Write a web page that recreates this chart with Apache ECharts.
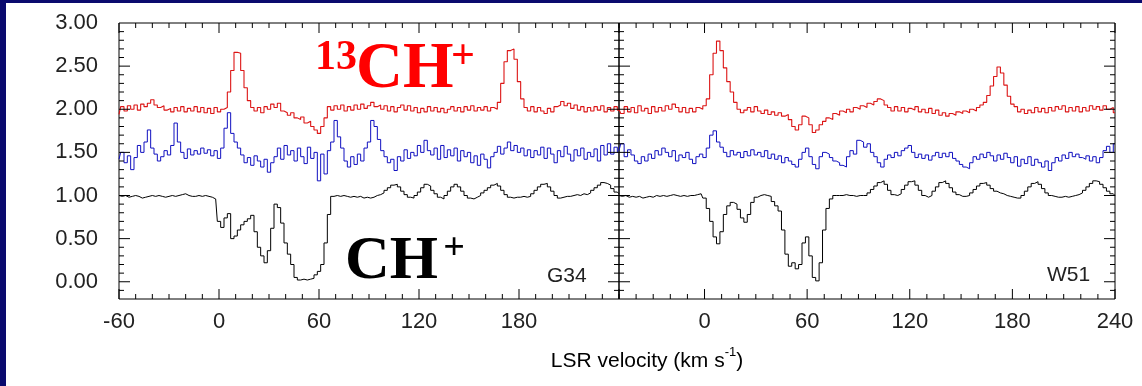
<!DOCTYPE html>
<html>
<head>
<meta charset="utf-8">
<script src="https://cdn.jsdelivr.net/npm/echarts@6/dist/echarts.min.js"></script>
<style>
html,body{margin:0;padding:0;background:#fff;}
#chart{width:1142px;height:386px;}
</style>
</head>
<body>
<div id="chart"></div>
<script>
// ---------- DATA ----------
// velocity sampling (km/s): sample i is at start + i*step
const g34Start = -60, w51Start = -50, vStep = 2;

// G34 panel (left), v = -60 .. 240
const g34_13CH = [
  1.94,2.03,1.98,2.04,2.00,2.05,1.99,2.06,2.03,2.07,
  2.11,2.05,2.02,2.04,1.99,2.01,1.97,2.02,1.98,2.03,
  1.97,2.01,1.98,2.03,1.97,2.02,1.96,2.01,1.95,2.02,
  1.97,2.00,2.02,2.20,2.45,2.66,2.65,2.45,2.25,2.10,
  2.02,1.98,2.02,1.96,2.03,2.00,2.06,2.02,2.07,1.98,
  1.96,1.93,1.96,1.90,1.88,1.91,1.84,1.86,1.80,1.76,
  1.72,1.80,1.90,2.03,1.99,2.04,2.00,2.05,1.98,2.03,
  1.99,2.05,2.00,2.06,2.01,2.04,2.08,2.03,2.05,2.00,
  2.04,1.98,2.03,1.97,2.02,2.05,1.99,2.04,1.98,2.02,
  1.96,2.01,1.97,2.03,1.98,2.02,1.97,2.01,1.96,2.00,
  2.03,1.98,2.02,1.97,2.03,1.99,2.04,1.98,2.02,1.99,
  2.03,1.98,2.02,2.00,2.08,2.30,2.55,2.68,2.70,2.58,
  2.32,2.12,2.02,1.98,2.03,1.97,2.02,1.98,1.95,2.01,
  1.97,2.03,2.05,2.09,2.04,2.07,2.01,2.05,1.99,2.03,
  1.97,2.02,1.98,2.03,1.99,2.04,1.97,2.02,1.98,2.03,
  1.99
];
const g34_blue = [
  1.42,1.50,1.38,1.46,1.30,1.44,1.58,1.50,1.62,1.76,
  1.55,1.48,1.40,1.45,1.52,1.47,1.58,1.84,1.62,1.50,
  1.43,1.54,1.47,1.52,1.48,1.55,1.49,1.53,1.46,1.52,
  1.43,1.55,1.78,1.96,1.72,1.62,1.55,1.47,1.38,1.44,
  1.35,1.46,1.40,1.33,1.42,1.27,1.38,1.45,1.55,1.42,
  1.58,1.47,1.52,1.40,1.55,1.45,1.37,1.56,1.43,1.50,
  1.17,1.48,1.25,1.52,1.62,1.87,1.68,1.55,1.40,1.33,
  1.45,1.36,1.48,1.40,1.55,1.62,1.87,1.80,1.65,1.52,
  1.45,1.38,1.42,1.29,1.45,1.40,1.53,1.43,1.50,1.46,
  1.58,1.50,1.64,1.52,1.47,1.55,1.42,1.58,1.44,1.53,
  1.46,1.55,1.40,1.52,1.45,1.50,1.38,1.46,1.35,1.48,
  1.42,1.32,1.45,1.50,1.57,1.48,1.55,1.62,1.52,1.58,
  1.50,1.55,1.46,1.53,1.44,1.52,1.47,1.56,1.43,1.55,
  1.48,1.38,1.52,1.45,1.57,1.48,1.40,1.53,1.46,1.55,
  1.42,1.50,1.45,1.54,1.40,1.58,1.47,1.60,1.48,1.56,
  1.50
];
const g34_CH = [
  1.00,0.99,1.00,0.98,0.99,1.00,0.99,0.97,0.98,0.99,
  1.00,0.99,1.00,0.99,0.98,0.99,1.00,0.99,1.00,1.01,
  1.02,1.00,0.99,0.99,1.00,0.99,1.00,0.99,0.98,0.96,
  0.70,0.63,0.74,0.79,0.50,0.53,0.60,0.66,0.70,0.73,
  0.77,0.58,0.40,0.30,0.22,0.36,0.62,0.90,0.86,0.68,
  0.45,0.32,0.20,0.05,0.02,0.03,0.02,0.03,0.04,0.08,
  0.12,0.20,0.45,0.78,0.99,1.00,0.99,1.00,0.99,0.98,
  0.99,0.98,0.99,0.97,0.98,0.97,0.98,1.00,1.01,1.03,
  1.06,1.09,1.12,1.13,1.10,1.05,1.01,0.98,0.97,1.00,
  1.04,1.09,1.13,1.11,1.06,1.02,0.98,0.96,1.00,1.05,
  1.10,1.13,1.10,1.05,1.00,0.97,0.96,0.98,1.00,1.03,
  1.06,1.09,1.12,1.14,1.11,1.06,1.01,0.98,0.97,0.98,
  0.98,0.99,0.98,0.99,1.02,1.06,1.10,1.13,1.14,1.10,
  1.05,1.00,0.97,0.98,0.99,0.99,1.00,1.01,1.00,1.02,
  1.01,1.03,1.06,1.09,1.12,1.15,1.14,1.12,1.08,1.04,
  1.02
];

// W51 panel (right), v = -50 .. 240
const w51_13CH = [
  2.00,1.95,2.03,1.97,2.02,1.96,2.04,1.98,2.01,1.95,
  2.03,1.97,2.02,1.98,2.04,2.00,2.06,2.02,1.97,2.02,
  1.96,2.01,1.97,2.02,2.00,2.04,2.12,2.40,2.65,2.79,
  2.68,2.48,2.32,2.20,2.08,2.00,1.96,1.99,2.02,1.97,
  2.03,1.98,1.95,1.99,1.94,1.97,1.93,1.96,1.92,1.94,
  1.88,1.80,1.76,1.82,1.92,1.90,1.82,1.73,1.76,1.82,
  1.86,1.90,1.88,1.95,1.93,1.98,1.96,2.00,1.97,2.02,
  2.00,2.04,2.02,2.07,2.05,2.09,2.12,2.10,2.05,2.02,
  1.98,2.03,1.98,2.02,1.97,2.01,1.99,2.03,1.97,2.00,
  1.96,2.01,1.95,1.99,1.93,1.96,1.92,1.95,1.93,1.97,
  1.95,1.98,1.96,2.00,1.98,2.02,2.05,2.08,2.16,2.27,
  2.38,2.49,2.42,2.28,2.15,2.06,2.03,1.97,2.00,1.95,
  1.99,1.96,2.02,1.97,2.01,1.96,2.02,1.98,2.03,2.00,
  2.04,1.97,2.02,1.98,2.03,1.97,2.02,1.98,2.04,2.00,
  2.03,1.99,2.04,2.00,2.02,1.96
];
const w51_blue = [
  1.52,1.60,1.45,1.53,1.47,1.40,1.37,1.45,1.40,1.48,
  1.43,1.52,1.47,1.55,1.50,1.45,1.52,1.40,1.47,1.44,
  1.50,1.42,1.37,1.45,1.48,1.44,1.55,1.70,1.75,1.62,
  1.56,1.50,1.45,1.52,1.47,1.50,1.44,1.51,1.46,1.53,
  1.47,1.50,1.45,1.52,1.43,1.48,1.42,1.46,1.38,1.44,
  1.40,1.36,1.33,1.42,1.50,1.55,1.45,1.36,1.31,1.45,
  1.50,1.48,1.44,1.40,1.38,1.35,1.33,1.45,1.52,1.48,
  1.64,1.62,1.56,1.60,1.50,1.45,1.38,1.33,1.42,1.47,
  1.44,1.50,1.46,1.52,1.55,1.58,1.50,1.44,1.48,1.43,
  1.47,1.41,1.46,1.50,1.44,1.49,1.45,1.50,1.43,1.40,
  1.36,1.33,1.31,1.38,1.45,1.42,1.48,1.44,1.50,1.46,
  1.40,1.47,1.42,1.49,1.44,1.38,1.45,1.34,1.42,1.37,
  1.45,1.35,1.42,1.38,1.33,1.40,1.29,1.38,1.44,1.40,
  1.47,1.43,1.50,1.45,1.48,1.44,1.42,1.46,1.40,1.45,
  1.38,1.44,1.52,1.57,1.50,1.60
];
const w51_CH = [
  1.00,0.99,1.00,0.98,0.99,0.98,0.99,0.97,0.98,0.99,
  0.98,1.00,0.99,1.00,0.99,1.00,1.01,1.00,0.99,1.00,
  0.99,1.00,1.00,1.01,1.02,0.97,0.85,0.70,0.52,0.44,
  0.58,0.78,0.88,0.92,0.90,0.84,0.74,0.69,0.78,0.92,
  0.98,1.00,1.01,1.00,0.99,0.93,0.88,0.82,0.60,0.32,
  0.18,0.22,0.15,0.20,0.45,0.52,0.30,0.05,0.01,0.22,
  0.60,0.85,0.96,1.00,1.00,1.00,1.01,1.00,1.00,0.99,
  1.00,1.00,1.00,1.03,1.07,1.11,1.15,1.17,1.13,1.06,
  1.01,1.00,1.02,1.07,1.12,1.16,1.17,1.12,1.06,1.00,
  0.98,1.00,1.05,1.10,1.15,1.17,1.14,1.09,1.04,1.01,
  0.99,0.99,1.00,1.03,1.07,1.11,1.14,1.15,1.12,1.08,
  1.05,1.03,1.02,1.00,0.99,0.98,0.97,0.97,1.00,1.05,
  1.10,1.14,1.16,1.13,1.08,1.03,1.00,0.99,0.98,0.98,
  0.99,0.98,0.99,1.00,1.01,1.03,1.06,1.10,1.14,1.17,
  1.16,1.13,1.09,1.05,1.02,1.00
];

// tick labels
const yTicks = [0, 0.5, 1.0, 1.5, 2.0, 2.5, 3.0];
const g34XTicks = [-60, 0, 60, 120, 180];
const w51XTicks = [0, 60, 120, 180, 240];
const panelNames = ['G34', 'W51'];

// ---------- CHART ----------
const SANS = '"Liberation Sans", Arial, sans-serif';
const SERIF = '"Liberation Serif", "Times New Roman", serif';
const Y_MIN = -0.2, Y_MAX = 3.0;
const GRID_TOP = 23, GRID_H = 276;
const panels = [
  {min: -60, max: 240, left: 119, width: 500, labels: g34XTicks, yLabels: true},
  {min: -50, max: 240, left: 619, width: 496, labels: w51XTicks, yLabels: false}
];

function range(a, b, s) { const r = []; for (let v = a; v <= b + 1e-9; v += s) r.push(Math.round(v * 100) / 100); return r; }

const grids = [], xAxes = [], yAxes = [], tickSeries = [];
const MAJOR = 10, MINOR = 5;
panels.forEach((p, gi) => {
  grids.push({left: p.left, top: GRID_TOP, width: p.width, height: GRID_H, containLabel: false,
    show: true, borderColor: '#000', borderWidth: 1, backgroundColor: 'transparent'});
  xAxes.push({type: 'value', gridIndex: gi, min: p.min, max: p.max, position: 'bottom',
    axisLine: {show: false, onZero: false}, splitLine: {show: false}, axisTick: {show: false},
    axisLabel: {show: true, customValues: p.labels, margin: 12, fontSize: 22, fontFamily: SANS, color: '#222'}});
  yAxes.push({type: 'value', gridIndex: gi, min: Y_MIN, max: Y_MAX, position: 'left',
    axisLine: {show: false, onZero: false}, splitLine: {show: false}, axisTick: {show: false},
    axisLabel: p.yLabels ? {show: true, customValues: yTicks, margin: 21, fontSize: 22, fontFamily: SANS,
      color: '#222', formatter: v => Number(v).toFixed(2)} : {show: false}});

  // tick marks drawn as short segments on the panel's own axes (tick length converted px -> data units)
  const kx = p.width / (p.max - p.min), ky = GRID_H / (Y_MAX - Y_MIN);
  const d = [];
  range(p.min, p.max, 10).forEach(v => {
    const len = ((Math.round(v) % 60 === 0) ? MAJOR : MINOR) / ky;
    d.push([v, Y_MIN], [v, Y_MIN + len], [v, '-']);
    d.push([v, Y_MAX], [v, Y_MAX - len], [v, '-']);
  });
  range(-0.1, 2.9, 0.1).forEach(v => {
    const major = Math.abs(v * 2 - Math.round(v * 2)) < 1e-6;
    const len = (major ? MAJOR + 1 : MINOR) / kx;
    d.push([p.min, v], [p.min + len, v], ['-', v]);
    d.push([p.max, v], [p.max - len, v], ['-', v]);
  });
  tickSeries.push({type: 'line', xAxisIndex: gi, yAxisIndex: gi, data: d, showSymbol: false,
    connectNulls: false, silent: true, clip: false, z: 6, lineStyle: {color: '#000', width: 1}});
});

function mk(arr, start, gi, color, w) {
  return {type: 'line', xAxisIndex: gi, yAxisIndex: gi, showSymbol: false, step: 'middle',
    data: arr.map((y, i) => [start + i * vStep, y]),
    lineStyle: {color: color, width: w}, silent: true, z: 3};
}
const RED = '#dc1414', BLUE = '#1010c0', BLACK = '#000';
const series = [
  mk(g34_CH, g34Start, 0, BLACK, 1), mk(g34_blue, g34Start, 0, BLUE, 1), mk(g34_13CH, g34Start, 0, RED, 1.1),
  mk(w51_CH, w51Start, 1, BLACK, 1), mk(w51_blue, w51Start, 1, BLUE, 1), mk(w51_13CH, w51Start, 1, RED, 1.1)
].concat(tickSeries);

const NAVY = '#0a0a6e';
const graphic = [
  {type: 'rect', left: 0, top: 0, shape: {width: 6, height: 386}, style: {fill: NAVY}, z: 100},
  {type: 'rect', left: 0, top: 0, shape: {width: 1142, height: 3}, style: {fill: NAVY}, z: 100},
  {type: 'text', x: 315, y: 58, style: {text: '13', font: 'bold 42px ' + SERIF, fill: '#ff0000',
    textAlign: 'left', textVerticalAlign: 'middle'}, z: 50},
  {type: 'text', x: 356, y: 70, style: {text: 'CH', font: 'bold 65px ' + SERIF, fill: '#ff0000',
    textAlign: 'left', textVerticalAlign: 'middle'}, z: 50},
  {type: 'text', x: 463, y: 57, style: {text: '+', font: 'bold 42px ' + SERIF, fill: '#ff0000',
    textAlign: 'center', textVerticalAlign: 'middle'}, z: 50},
  {type: 'text', x: 345, y: 262, style: {text: 'CH', font: 'bold 62px ' + SERIF, fill: '#000',
    textAlign: 'left', textVerticalAlign: 'middle'}, z: 50},
  {type: 'text', x: 454, y: 249, style: {text: '+', font: 'bold 38px ' + SERIF, fill: '#000',
    textAlign: 'center', textVerticalAlign: 'middle'}, z: 50},
  {type: 'text', x: 547, y: 276, style: {text: panelNames[0], font: '21px ' + SANS, fill: '#222',
    textAlign: 'left', textVerticalAlign: 'middle'}, z: 50},
  {type: 'text', x: 1047, y: 275, style: {text: panelNames[1], font: '21px ' + SANS, fill: '#222',
    textAlign: 'left', textVerticalAlign: 'middle'}, z: 50},
  {type: 'text', x: 647, y: 359, style: {
    text: '{a|LSR velocity (km s}{b|-1}{a|)}',
    rich: {a: {fontSize: 21, fontFamily: SANS, color: '#222', lineHeight: 26, verticalAlign: 'bottom'},
           b: {fontSize: 13, fontFamily: SANS, color: '#222', verticalAlign: 'top', lineHeight: 26}},
    textAlign: 'center', textVerticalAlign: 'middle'}, z: 50}
];

const chart = echarts.init(document.getElementById('chart'), null, {renderer: 'canvas'});
chart.setOption({
  animation: false,
  backgroundColor: '#fff',
  grid: grids, xAxis: xAxes, yAxis: yAxes, series: series, graphic: graphic
});
</script>
</body>
</html>
